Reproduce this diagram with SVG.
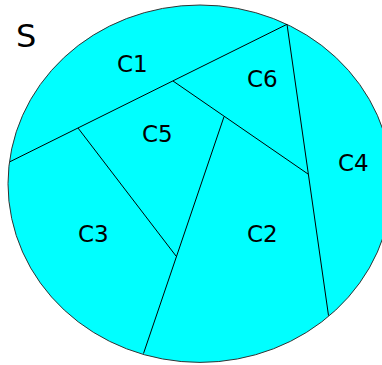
<svg xmlns="http://www.w3.org/2000/svg" width="382" height="365" viewBox="0 0 382 365">
<style>
.set{fill:#00ffff;stroke:#333;stroke-width:1}
.div{fill:none;stroke:#000;stroke-width:1}
.lbl{font-family:"DejaVu Sans",sans-serif;font-size:23px;fill:#000}
.big{font-size:32px}
</style>
<g id="S">
<ellipse class="set" cx="200" cy="183.7" rx="192" ry="178.7"/>
<text class="lbl big" x="16" y="47.3">S</text>
</g>
<g id="connectors">
<line class="div" x1="10" y1="161.7" x2="287" y2="24.3"/>
<line class="div" x1="287" y1="24.3" x2="328.5" y2="315.5"/>
<line class="div" x1="173" y1="81" x2="308" y2="174"/>
<line class="div" x1="224" y1="116.7" x2="143.5" y2="353.5"/>
<line class="div" x1="78" y1="128" x2="176" y2="256"/>
</g>
<g id="C1"><text class="lbl" x="117" y="71.5">C1</text></g>
<g id="C2"><text class="lbl" x="247" y="242.3">C2</text></g>
<g id="C3"><text class="lbl" x="78" y="241.7">C3</text></g>
<g id="C4"><text class="lbl" x="338" y="171">C4</text></g>
<g id="C5"><text class="lbl" x="142" y="141.7">C5</text></g>
<g id="C6"><text class="lbl" x="247" y="86.7">C6</text></g>
</svg>
